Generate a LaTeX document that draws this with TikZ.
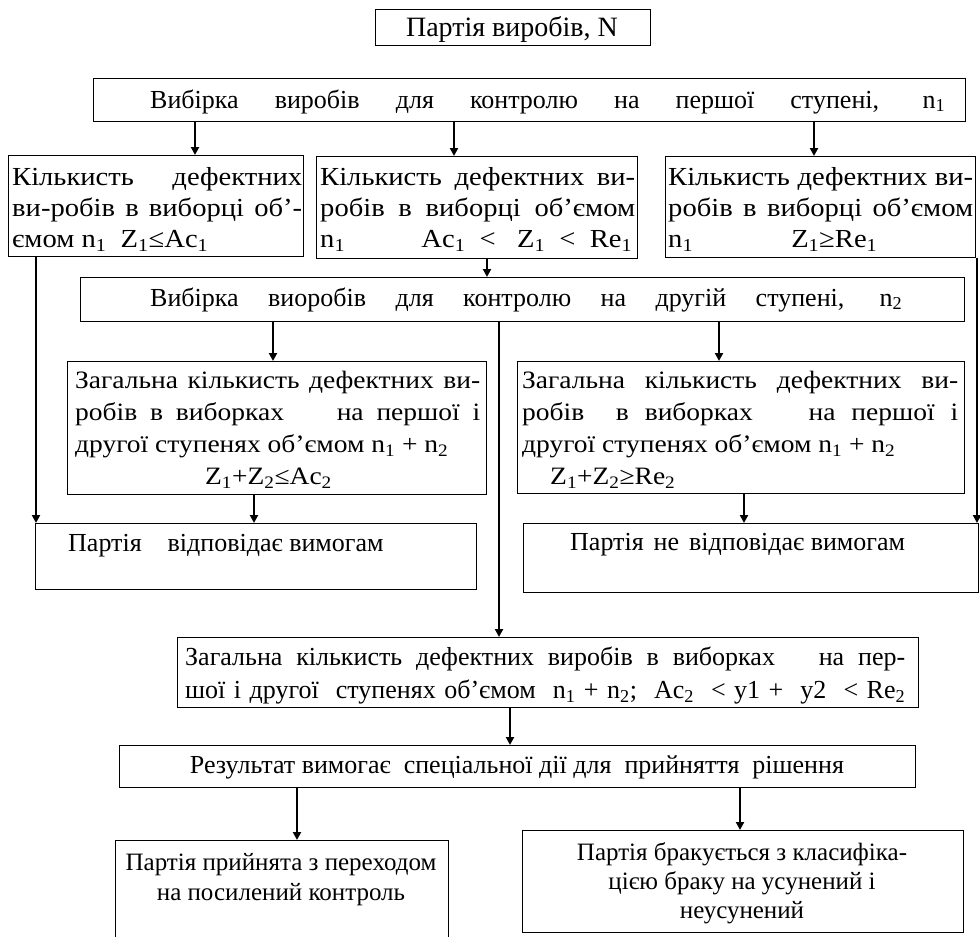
\documentclass[tikz,border=0pt]{standalone}
\usepackage{fontspec}
\setmainfont{Liberation Serif}
\newfontfamily\widefont{Liberation Serif}[FakeStretch=1.1]
\usetikzlibrary{arrows.meta}
\newcommand{\sbs}[1]{\textsubscript{#1}}
\begin{document}
\begin{tikzpicture}[x=1pt,y=-1pt,
 box/.style={draw, line width=1.4pt, inner sep=0pt, anchor=north west},
 txt/.style={inner sep=0pt, font=\fontsize{26}{31}\selectfont},
 jtxt/.style={txt, anchor=north west, align=justify,
   execute at begin node={\hyphenpenalty=10000\exhyphenpenalty=10000\tolerance=10000\strut}},
 arr/.style={line width=2.4pt, -{Triangle[length=8pt,width=8pt]}}]
\useasboundingbox (0,0) rectangle (980,937);
% boxes
\node[box, minimum width=275pt, minimum height=36pt] (b1) at (375,9) {};
\node[box, minimum width=872pt, minimum height=43pt] (b2) at (93,78) {};
\node[box, minimum width=295pt, minimum height=101pt] (L3) at (8,155) {};
\node[box, minimum width=321pt, minimum height=102pt] (M3) at (316,156) {};
\node[box, minimum width=310pt, minimum height=101pt] (R3) at (665,156) {};
\node[box, minimum width=884pt, minimum height=44pt] (b4) at (80,277) {};
\node[box, minimum width=419pt, minimum height=133pt] (L5) at (67,361) {};
\node[box, minimum width=447pt, minimum height=132pt] (R5) at (517,361) {};
\node[box, minimum width=441pt, minimum height=66pt] (P1) at (35,523) {};
\node[box, minimum width=455pt, minimum height=69pt] (P2) at (523,523) {};
\node[box, minimum width=741pt, minimum height=70pt] (b6) at (177,637) {};
\node[box, minimum width=796pt, minimum height=42pt] (b7) at (119,745) {};
\node[box, minimum width=333pt, minimum height=100pt] (b8L) at (115,840) {};
\node[box, minimum width=441pt, minimum height=102pt] (b8R) at (522,830) {};
% texts
\node[txt, anchor=base, font=\fontsize{28}{31}\selectfont] (t1) at (512,36) {Партія виробів, N};
\node[txt, anchor=base west] (t2) at (150,108) {\makebox[795pt][s]{Вибірка виробів для контролю на першої ступені, n\sbs{1}}};
\node[jtxt, text width=290pt, font=\widefont\fontsize{26}{31}\selectfont] (t3L) at (12,164) {Кількисть дефектних\linebreak ви-робів в виборці об’-\linebreak ємом n\sbs{1}\ \ Z\sbs{1}≤Ac\sbs{1}};
\node[jtxt, text width=315pt, font=\widefont\fontsize{26}{31}\selectfont] (t3M) at (320,164) {Кількисть дефектних ви-\linebreak робів в виборці об’ємом\linebreak n\sbs{1}\hfill Ac\sbs{1}\ \ <\ \ \ Z\sbs{1}\ \ <\ \ Re\sbs{1}\hspace*{3pt}\null};
\node[jtxt, text width=305pt, font=\widefont\fontsize{26}{31}\selectfont] (t3R) at (668,164) {Кількисть дефектних ви-\linebreak робів в виборці об’ємом\linebreak n\sbs{1}\hfill Z\sbs{1}≥Re\sbs{1}\hspace*{96pt}\null};
\node[txt, anchor=base west] (t4) at (150,306) {\makebox[752pt][s]{Вибірка виоробів для контролю на другій ступені, n\sbs{2}}};
\node[jtxt, text width=405pt, font=\widefont\fontsize{25}{32}\selectfont] (t5L) at (75,366) {Загальна кількисть дефектних ви-\linebreak робів в виборках\hspace{40pt} на першої і\linebreak другої ступенях об’ємом n\sbs{1} + n\sbs{2}\\ \hspace*{130pt}Z\sbs{1}+Z\sbs{2}≤Ac\sbs{2}};
\node[jtxt, text width=436pt, font=\widefont\fontsize{25}{32}\selectfont] (t5R) at (522,366) {Загальна кількисть дефектних ви-\linebreak робів\ \ в виборках\hspace{40pt} на першої і\linebreak другої ступенях об’ємом n\sbs{1} + n\sbs{2}\\ \hspace*{28pt}Z\sbs{1}+Z\sbs{2}≥Re\sbs{2}};
\node[txt, anchor=base west] (tP1) at (68,551) {Партія\hspace{26pt}відповідає вимогам};
\node[txt, anchor=base west] (tP2) at (570,550) {Партія\hspace{10pt}не\hspace{10pt}відповідає вимогам};
\node[jtxt, text width=720pt, font=\fontsize{26}{33}\selectfont, execute at begin node={\parfillskip=0pt}] (t6) at (185,642) {Загальна кількисть дефектних виробів в виборках\hspace{30pt} на пер-\linebreak шої і другої\ \ ступенях об’ємом\ \ n\sbs{1} + n\sbs{2};\ \ Ac\sbs{2}\ \ < y1 +\ \ y2\ \ < Re\sbs{2}};
\node[txt, anchor=base] (t7) at (517,773) {Результат вимогає\ \ спеціальної дії для\ \ прийняття\ \ рішення};
\node[txt, anchor=north, align=center, font=\fontsize{25}{30}\selectfont] (t8L) at (281,849) {\strut Партія прийнята з переходом\\на посилений контроль};
\node[txt, anchor=north, align=center, font=\fontsize{25}{29}\selectfont] (t8R) at (742,840) {\strut Партія бракується з класифіка-\\цією браку на усунений і\\неусунений};
% connector x positions
\coordinate (xa) at (195,0);
\coordinate (xb) at (454,0);
\coordinate (xc) at (814,0);
\coordinate (xd) at (487,0);
\coordinate (xe) at (36,0);
\coordinate (xf) at (977,0);
\coordinate (xg) at (273,0);
\coordinate (xh) at (719,0);
\coordinate (xi) at (499,0);
\coordinate (xj) at (254,0);
\coordinate (xk) at (744,0);
\coordinate (xl) at (510,0);
\coordinate (xm) at (297,0);
\coordinate (xn) at (740,0);
% connectors
\draw[arr] (b2.south -| xa) -- (L3.north -| xa);
\draw[arr] (b2.south -| xb) -- (M3.north -| xb);
\draw[arr] (b2.south -| xc) -- (R3.north -| xc);
\draw[arr] (M3.south -| xd) -- (b4.north -| xd);
\draw[arr] (L3.south -| xe) -- (P1.north -| xe);
\draw[arr] (R3.south -| xf) -- (P2.north -| xf);
\draw[arr] (b4.south -| xg) -- (L5.north -| xg);
\draw[arr] (b4.south -| xh) -- (R5.north -| xh);
\draw[arr] (b4.south -| xi) -- (b6.north -| xi);
\draw[arr] (L5.south -| xj) -- (P1.north -| xj);
\draw[arr] (R5.south -| xk) -- (P2.north -| xk);
\draw[arr] (b6.south -| xl) -- (b7.north -| xl);
\draw[arr] (b7.south -| xm) -- (b8L.north -| xm);
\draw[arr] (b7.south -| xn) -- (b8R.north -| xn);
\end{tikzpicture}
\end{document}
